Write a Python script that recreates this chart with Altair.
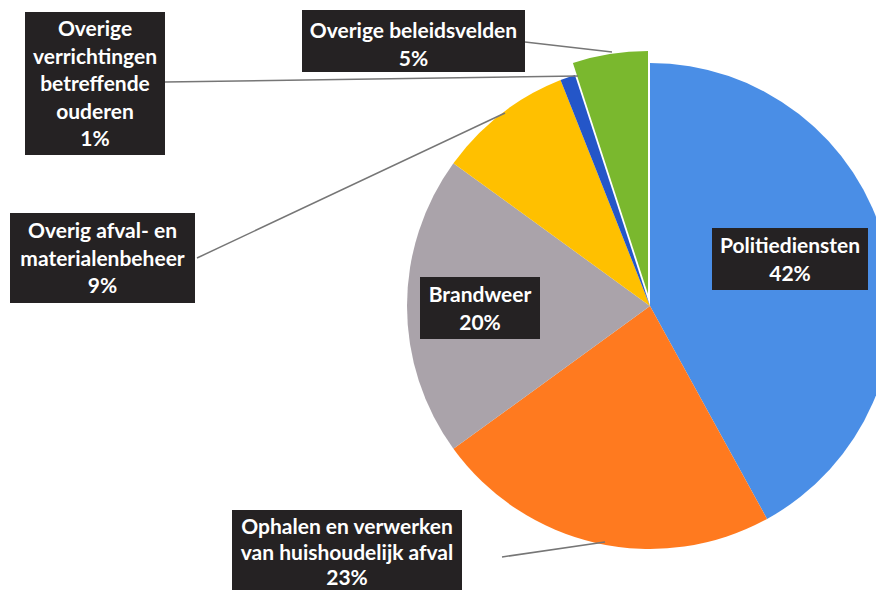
import altair as alt
import pandas as pd

# Slice data (clockwise from 12 o'clock)
categories = ["Politiediensten", "Ophalen en verwerken van huishoudelijk afval", "Brandweer",
              "Overig afval- en materialenbeheer", "Overige verrichtingen betreffende ouderen",
              "Overige beleidsvelden"]
values = [42, 23, 20, 9, 1, 5]
colors = ["#4a8ee6", "#ff7a1f", "#aaa3aa", "#ffc000", "#2456c8", "#7ab82e"]
exploded = "Overige beleidsvelden"

# Label texts
label_texts = [
    "Overige\nverrichtingen\nbetreffende\nouderen\n1%",
    "Overige beleidsvelden\n5%",
    "Overig afval- en\nmaterialenbeheer\n9%",
    "Brandweer\n20%",
    "Politiediensten\n42%",
    "Ophalen en verwerken\nvan huishoudelijk afval\n23%",
]
# label box layout (pixels)
box_x1 = [17, 294, 2, 412, 704, 224]
box_x2 = [157, 517, 187, 532, 860, 454]
box_y1 = [4, 2, 205, 269, 220, 502]
box_y2 = [147, 64, 295, 331, 282, 600]
text_x = [87, 405.5, 94.5, 472, 782, 339]
text_y = [22, 24, 224, 288, 239, 520]
compact = [False, False, False, False, False, True]

# leader lines (pixels)
line_x1 = [157, 517, 189, 494]
line_y1 = [74, 34, 250, 549]
line_x2 = [570, 604, 497, 597]
line_y2 = [68, 44, 105, 534]

CX, CY, R = 642, 298, 243

pie_df = pd.DataFrame({"cat": categories, "value": values, "order": list(range(len(values)))})
box_df = pd.DataFrame({"x1": box_x1, "x2": box_x2, "y1": box_y1, "y2": box_y2,
                       "tx": text_x, "ty": text_y, "label": label_texts, "compact": compact})
line_df = pd.DataFrame({"x1": line_x1, "y1": line_y1, "x2": line_x2, "y2": line_y2})

theta_scale = alt.Scale(domain=[0, 100])
color_enc = alt.Color("cat:N", scale=alt.Scale(domain=categories, range=colors), legend=None)

pie_base = alt.Chart(pie_df).transform_stack(
    stack="value", groupby=[], as_=["t0", "t1"], sort=[alt.SortField("order", order="ascending")]
)

pie_main = pie_base.transform_filter(f"datum.cat != '{exploded}'").mark_arc(radius=R).encode(
    theta=alt.Theta("t0:Q", scale=theta_scale), theta2="t1:Q",
    color=color_enc,
    x=alt.value(CX), y=alt.value(CY),
)

pie_exp = pie_base.transform_filter(f"datum.cat == '{exploded}'").mark_arc(radius=R).encode(
    theta=alt.Theta("t0:Q", scale=theta_scale), theta2="t1:Q",
    color=color_enc,
    x=alt.value(CX - 2), y=alt.value(CY - 12),
)

lines = alt.Chart(line_df).mark_rule(color="#767676", strokeWidth=1.5).encode(
    x=alt.X("x1:Q", scale=None), y=alt.Y("y1:Q", scale=None),
    x2="x2:Q", y2="y2:Q",
)

shadow = alt.Chart(box_df).mark_rect(color="#000000", opacity=0.18, xOffset=2, yOffset=3).encode(
    x=alt.X("x1:Q", scale=None), x2="x2:Q",
    y=alt.Y("y1:Q", scale=None), y2="y2:Q",
)

boxes = alt.Chart(box_df).mark_rect(color="#252223").encode(
    x=alt.X("x1:Q", scale=None), x2="x2:Q",
    y=alt.Y("y1:Q", scale=None), y2="y2:Q",
)

def text_layer(flag, lh):
    return alt.Chart(box_df).transform_filter(
        f"datum.compact == {str(flag).lower()}"
    ).mark_text(
        color="white", font="Lato", fontWeight="bold", fontSize=21,
        lineBreak="\n", lineHeight=lh, align="center", baseline="middle",
    ).encode(
        x=alt.X("tx:Q", scale=None), y=alt.Y("ty:Q", scale=None), text="label:N",
    )

texts = text_layer(False, 27.5)
texts_compact = text_layer(True, 25.5)

chart = alt.layer(pie_main, pie_exp, lines, shadow, boxes, texts, texts_compact).properties(
    width=868, height=582, padding=0,
    autosize=alt.AutoSizeParams(type="none"),
    background="white",
).configure_view(stroke=None)

chart.save("out.html", embed_options={"renderer": "svg", "actions": False})
